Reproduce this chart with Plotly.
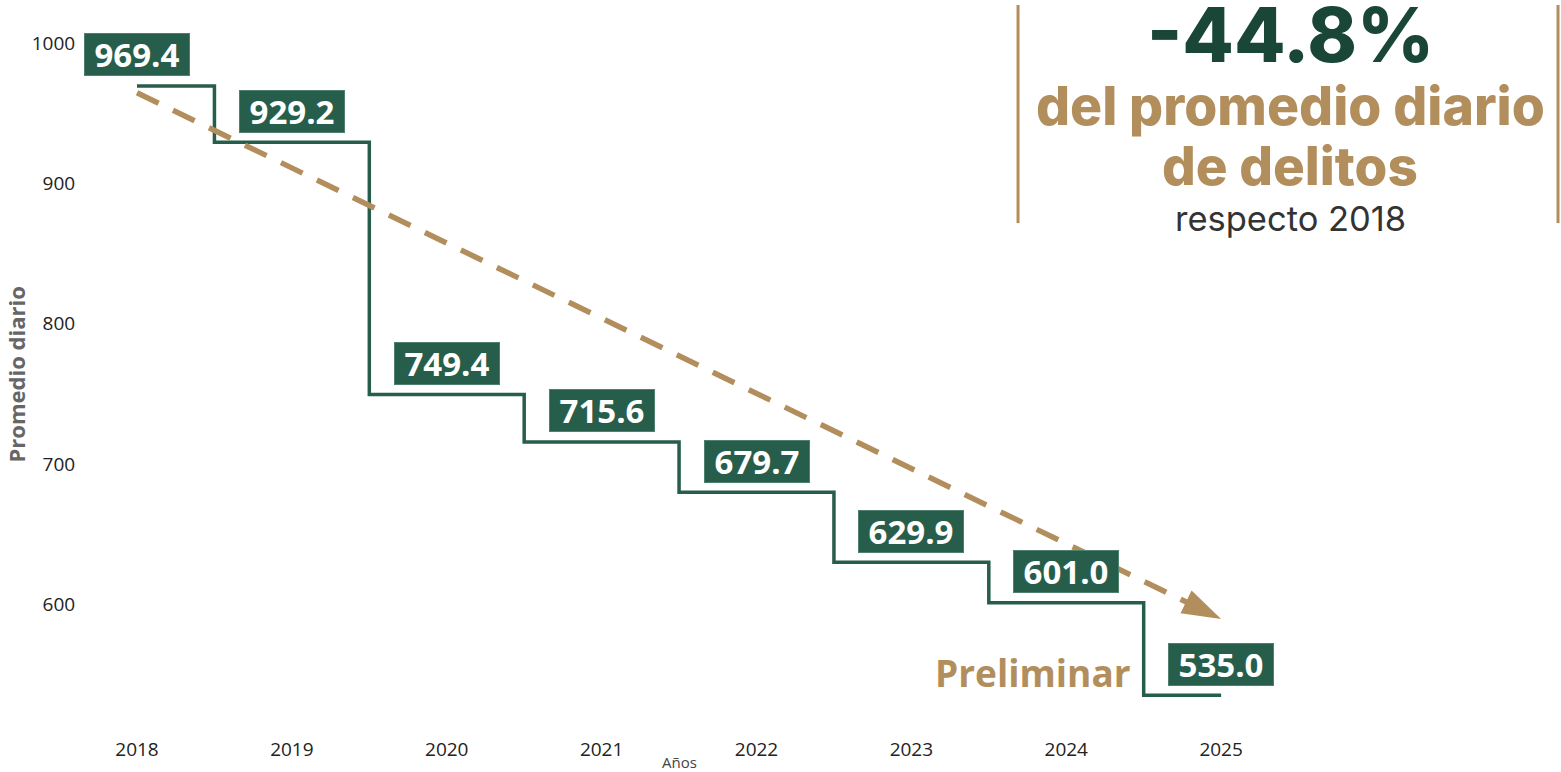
import plotly.graph_objects as go

years = [2018, 2019, 2020, 2021, 2022, 2023, 2024, 2025]
daily_avg = [969.4, 929.2, 749.4, 715.6, 679.7, 629.9, 601.0, 535.0]
trend_years = [2018, 2025]
trend_values = [964.5, 589.5]
y_ticks = [600, 700, 800, 900, 1000]

GREEN = "#275e4b"
TAN = "#b38e5d"
DARK = "#1a4637"

fig = go.Figure()
fig.add_trace(go.Scatter(
    x=years, y=daily_avg, mode="lines",
    line=dict(shape="hvh", color=GREEN, width=3.5),
    showlegend=False,
))
fig.add_trace(go.Scatter(
    x=trend_years, y=trend_values, mode="lines+markers",
    line=dict(color=TAN, width=5.5, dash="24px,16px"),
    marker=dict(symbol="arrow", size=[0, 41], angleref="previous", color=TAN,
                opacity=1, line=dict(width=0)),
    showlegend=False, hoverinfo="skip",
))

for yr, v in zip(years, daily_avg):
    fig.add_annotation(
        x=yr, y=v, text=f"<b>{v:.1f}</b>", showarrow=False, yshift=31,
        bgcolor=GREEN, bordercolor="#4f7f6d", borderwidth=1, borderpad=2,
        width=100, height=37,
        font=dict(family="Open Sans", size=33, color="white"),
    )

fig.add_annotation(x=2024.43, y=551, xanchor="right", yanchor="middle", text="<b>Preliminar</b>",
                   showarrow=False, font=dict(family="Open Sans", size=37, color=TAN))

# headline block
HX = 0.8214
fig.add_annotation(xref="paper", yref="paper", x=HX, y=0.9660, xanchor="center", yanchor="middle",
                   text="-44.8%", showarrow=False,
                   font=dict(family="Inter", size=75, color=DARK, weight=800))
fig.add_annotation(xref="paper", yref="paper", x=HX, y=0.8667, xanchor="center", yanchor="middle",
                   text="del promedio diario", showarrow=False,
                   font=dict(family="Inter", size=53.5, color=TAN, weight=800))
fig.add_annotation(xref="paper", yref="paper", x=HX, y=0.7833, xanchor="center", yanchor="middle",
                   text="de delitos", showarrow=False,
                   font=dict(family="Inter", size=53, color=TAN, weight=800))
fig.add_annotation(xref="paper", yref="paper", x=HX, y=0.7111, xanchor="center", yanchor="middle",
                   text="respecto 2018", showarrow=False,
                   font=dict(family="Inter", size=34.5, color="#333333"))
for px in [0.6352, 1.0048]:
    fig.add_shape(type="line", xref="paper", yref="paper", x0=px, x1=px, y0=0.704, y1=1.007,
                  line=dict(color=TAN, width=3))

# axis titles
fig.add_annotation(xref="paper", yref="paper", x=(15.5 - 90) / 1461, y=(730 - 375) / 720,
                   xanchor="center", yanchor="middle", text="<b>Promedio diario</b>",
                   textangle=-90, showarrow=False, font=dict(family="Open Sans", size=22, color="#666666"))
fig.add_annotation(x=2021.5, xref="x", yref="paper", y=(730 - 762) / 720, xanchor="center", yanchor="middle",
                   text="Años", showarrow=False, font=dict(family="Open Sans", size=15, color="#444444"))

fig.update_layout(
    width=1561, height=772,
    margin=dict(l=90, r=10, t=10, b=42),
    plot_bgcolor="white", paper_bgcolor="white",
    font=dict(family="Open Sans", size=19, color="#222222"),
    xaxis=dict(range=[2017.6965, 2027.13], tickvals=years, showgrid=False, zeroline=False, showline=False,
               ticks="outside", ticklen=2, tickcolor="rgba(0,0,0,0)"),
    yaxis=dict(range=[510.3, 1023.5], tickvals=y_ticks, showgrid=False, zeroline=False, showline=False,
               ticks="outside", ticklen=10, tickcolor="rgba(0,0,0,0)"),
)

fig.write_html(
    "out.html",
    config={"displayModeBar": False},
    post_script="document.body.style.margin='0';document.body.style.overflow='hidden';",
)
